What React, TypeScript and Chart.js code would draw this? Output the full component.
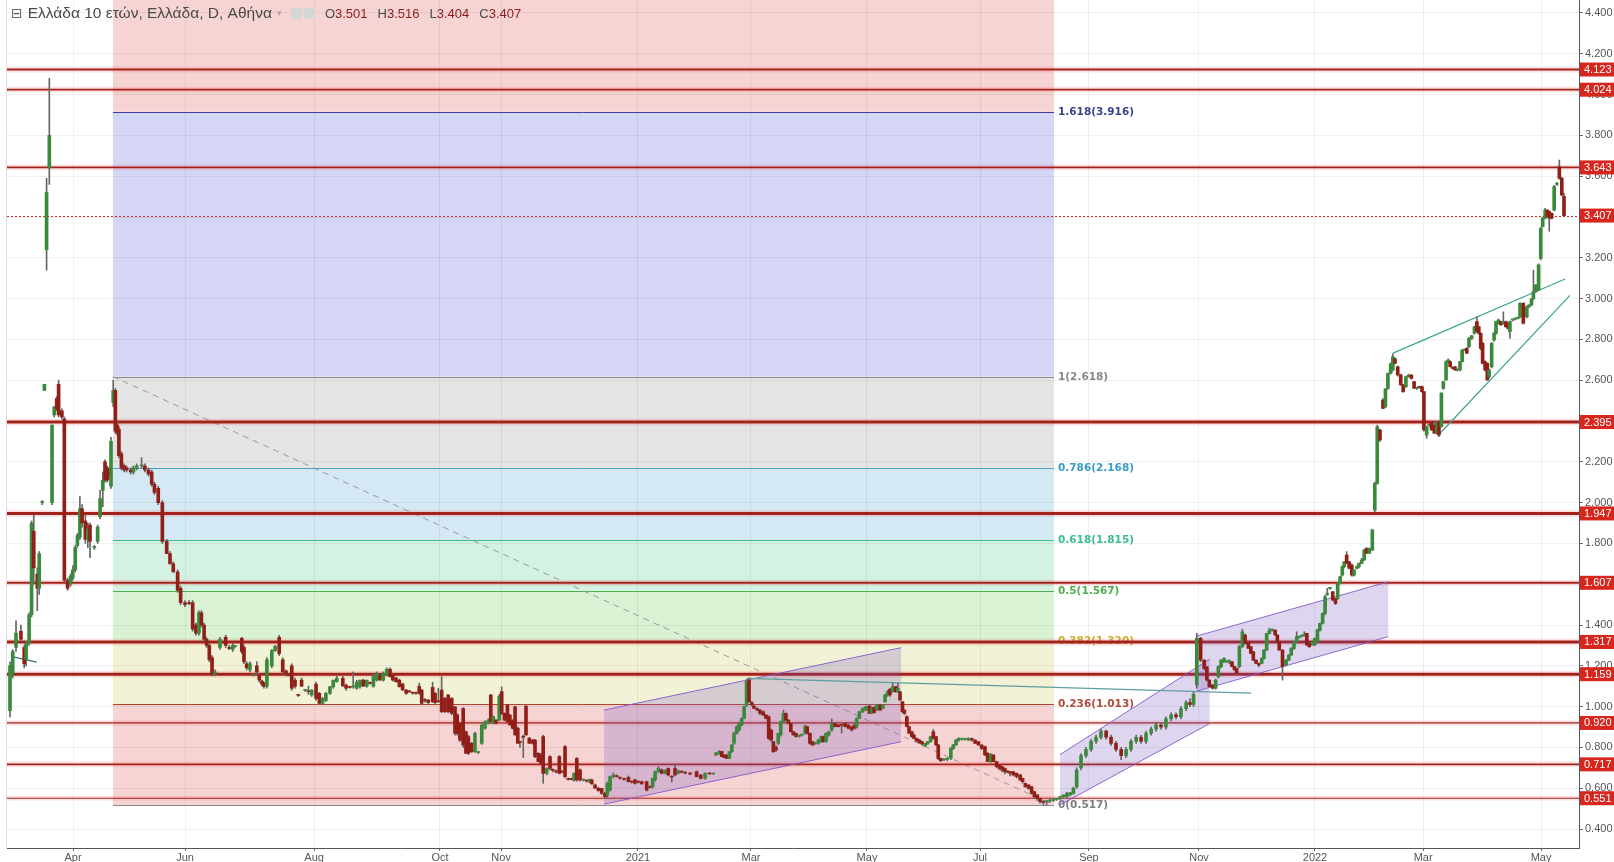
import React, { useEffect, useRef } from "react";
import { Chart, registerables } from "chart.js";
Chart.register(...registerables);

// ---- candle data: [tradingDayIndex, open, high, low, close] ----
const bars2020Spring = [
  [1.1,0.98,1.22,0.95,1.20],[2.1,1.16,1.28,1.14,1.27],[3.3,1.29,1.42,1.27,1.36],[5.1,1.37,1.40,1.32,1.33],
  [6.3,1.29,1.30,1.19,1.21],[7.0,1.23,1.32,1.20,1.31],[8.1,1.31,1.46,1.30,1.45],[9.0,1.45,1.91,1.44,1.90],
  [9.8,1.86,1.94,1.60,1.68],[11.1,1.65,1.68,1.47,1.58],[11.8,1.58,1.76,1.55,1.75],[12.9,2.00,2.01,1.99,2.005],
  [13.7,2.55,2.58,2.55,2.58],[14.5,3.24,3.59,3.14,3.52],[15.5,3.64,4.08,3.56,3.80],[16.5,2.00,2.38,1.99,2.38],
  [17.3,2.43,2.47,2.42,2.47],[18.2,2.51,2.52,2.45,2.46],[18.9,2.58,2.60,2.42,2.43],[20.1,2.45,2.46,2.41,2.42],
  [21.0,2.41,2.42,1.61,1.62],[22.2,1.62,1.63,1.57,1.58],[23.3,1.60,1.65,1.59,1.64],[24.1,1.63,1.69,1.62,1.67],
  [25.0,1.67,1.79,1.66,1.78],[25.8,1.79,1.85,1.78,1.84],[26.7,1.83,2.03,1.82,1.97],[27.5,1.97,1.99,1.88,1.90],
  [28.7,1.91,1.94,1.80,1.82],[29.6,1.82,1.90,1.78,1.87],[30.4,1.89,1.90,1.73,1.81],[32.0,1.78,1.79,1.77,1.785],
  [33.2,1.81,1.89,1.80,1.88],[34.1,1.93,2.06,1.92,2.02],[35.1,2.06,2.15,1.98,2.11],[35.9,2.20,2.21,2.10,2.11],
  [36.7,2.17,2.18,2.10,2.11],[37.4,2.16,2.17,2.12,2.13],[38.1,2.08,2.32,2.07,2.30],[38.9,2.49,2.60,2.47,2.55],
];
const bars2020Summer = [
  [39.7,2.55,2.56,2.34,2.35],[40.4,2.38,2.40,2.33,2.34],[41.0,2.36,2.37,2.22,2.23],[41.9,2.24,2.25,2.16,2.17],
  [42.9,2.18,2.19,2.15,2.16],[43.8,2.17,2.18,2.15,2.16],[45.3,2.16,2.17,2.14,2.15],[46.3,2.15,2.18,2.14,2.17],
  [47.5,2.17,2.19,2.16,2.18],[49.3,2.18,2.22,2.17,2.185],[50.5,2.18,2.19,2.15,2.16],[51.8,2.16,2.17,2.13,2.14],
  [53.0,2.15,2.16,2.08,2.09],[54.0,2.09,2.10,2.04,2.05],[55.4,2.07,2.08,1.99,2.00],[56.9,2.00,2.01,1.80,1.81],
  [58.5,1.81,1.82,1.75,1.75],[59.7,1.75,1.76,1.70,1.70],[60.9,1.70,1.71,1.66,1.66],[62.5,1.66,1.67,1.56,1.57],
  [63.6,1.58,1.59,1.50,1.51],[65.2,1.51,1.52,1.49,1.50],[66.7,1.51,1.52,1.50,1.505],[68.0,1.51,1.52,1.37,1.38],
  [69.2,1.40,1.41,1.35,1.36],[70.3,1.36,1.47,1.35,1.46],[71.2,1.46,1.47,1.39,1.40],[72.2,1.40,1.41,1.32,1.33],
  [73.1,1.33,1.34,1.29,1.30],[74.1,1.30,1.31,1.22,1.23],[75.1,1.24,1.25,1.15,1.16],[76.2,1.16,1.18,1.15,1.17],
  [78.0,1.29,1.34,1.28,1.33],[80.1,1.34,1.35,1.29,1.30],[81.4,1.29,1.30,1.28,1.285],[82.7,1.28,1.31,1.27,1.30],
  [83.5,1.295,1.30,1.29,1.30],[86.0,1.335,1.34,1.26,1.27],[86.8,1.29,1.30,1.21,1.22],[87.8,1.21,1.22,1.18,1.19],
  [89.0,1.18,1.22,1.17,1.21],[90.2,1.155,1.16,1.15,1.157],[91.5,1.20,1.22,1.16,1.17],[92.4,1.155,1.16,1.12,1.13],
  [93.4,1.125,1.13,1.10,1.11],[94.1,1.115,1.12,1.09,1.10],[95.2,1.10,1.24,1.09,1.23],[97.0,1.20,1.28,1.19,1.275],
  [98.2,1.275,1.30,1.27,1.295],[99.7,1.34,1.35,1.25,1.26],[101.0,1.23,1.24,1.16,1.17],[102.2,1.175,1.18,1.15,1.16],
  [103.0,1.155,1.16,1.15,1.152],[104.3,1.20,1.21,1.08,1.09],[105.5,1.13,1.14,1.09,1.10],[106.7,1.057,1.06,1.05,1.055],
  [107.9,1.13,1.14,1.10,1.10],[109.2,1.08,1.085,1.075,1.08],[110.4,1.075,1.10,1.06,1.073],[111.6,1.057,1.085,1.05,1.08],
  [113.2,1.11,1.12,1.03,1.04],[114.4,1.065,1.07,1.01,1.016],[115.6,1.016,1.045,1.01,1.04],[116.8,1.03,1.07,1.025,1.065],
  [118.3,1.065,1.10,1.06,1.098],[119.5,1.098,1.13,1.09,1.13],[120.8,1.122,1.15,1.12,1.139],
];
const bars2020Autumn = [
  [123.0,1.139,1.15,1.10,1.101],[124.2,1.105,1.11,1.08,1.09],[125.6,1.095,1.10,1.09,1.094],[126.8,1.097,1.17,1.09,1.10],
  [128.1,1.09,1.13,1.085,1.12],[129.3,1.098,1.13,1.09,1.13],[130.5,1.13,1.135,1.10,1.10],[131.8,1.10,1.13,1.095,1.13],
  [133.0,1.115,1.12,1.11,1.114],[134.2,1.10,1.16,1.095,1.147],[135.4,1.13,1.17,1.125,1.163],[136.6,1.155,1.16,1.13,1.13],
  [137.8,1.13,1.17,1.125,1.163],[139.1,1.155,1.19,1.15,1.183],[140.3,1.183,1.19,1.145,1.147],[141.3,1.155,1.16,1.125,1.13],
  [142.5,1.14,1.145,1.12,1.122],[143.7,1.13,1.135,1.095,1.098],[144.9,1.111,1.115,1.08,1.081],[146.2,1.081,1.085,1.06,1.065],
  [147.4,1.073,1.08,1.07,1.072],[148.6,1.068,1.07,1.06,1.066],[149.8,1.068,1.07,1.06,1.066],[151.0,1.10,1.115,1.06,1.065],
  [151.9,1.081,1.085,1.01,1.016],[153.1,1.032,1.04,1.02,1.03],[154.3,1.032,1.035,1.015,1.02],[155.9,1.094,1.12,1.02,1.024],
  [156.8,1.065,1.07,1.015,1.02],[158.0,1.025,1.09,1.02,1.024],[159.2,1.081,1.147,0.97,0.975],[160.4,1.04,1.045,0.97,0.975],
  [161.6,1.057,1.06,0.97,0.975],[162.9,1.04,1.045,0.96,0.967],[164.1,0.999,1.00,0.86,0.869],[164.9,0.96,0.965,0.86,0.869],
  [165.9,0.918,0.92,0.83,0.836],[167.1,0.991,0.995,0.80,0.812],[168.1,0.877,0.88,0.77,0.771],[169.0,0.853,0.86,0.765,0.771],
  [170.2,0.82,0.825,0.775,0.779],[171.4,0.779,0.875,0.775,0.869],[172.6,0.775,0.78,0.77,0.776],[173.9,0.82,0.915,0.815,0.91],
  [175.1,0.894,0.93,0.89,0.926],[176.3,0.918,0.94,0.915,0.934],[177.2,1.057,1.06,0.92,0.926],[178.1,0.918,0.955,0.915,0.951],
  [179.1,0.934,0.937,0.915,0.918],[180.3,0.934,1.06,0.93,1.049],[181.2,1.073,1.097,0.96,0.967],[182.2,0.967,0.97,0.93,0.934],
  [183.3,1.008,1.01,0.92,0.926],[184.2,0.959,0.962,0.91,0.91],[185.2,0.934,0.937,0.89,0.894],[186.1,0.999,1.003,0.86,0.861],
  [187.1,0.894,0.90,0.82,0.82],[187.9,0.828,0.83,0.80,0.825],[189.1,0.853,0.86,0.75,0.85],[190.1,1.003,1.005,0.86,0.861],
  [191.3,0.845,0.85,0.82,0.82],[192.6,0.836,0.84,0.815,0.82],[193.4,0.836,0.84,0.75,0.755],[194.6,0.771,0.775,0.73,0.73],
  [195.5,0.763,0.77,0.72,0.722],[196.4,0.853,0.86,0.624,0.673],[197.7,0.673,0.70,0.665,0.697],[198.9,0.755,0.76,0.69,0.697],
  [199.9,0.69,0.695,0.68,0.688],[201.1,0.682,0.69,0.675,0.68],[202.3,0.755,0.76,0.67,0.673],[203.2,0.682,0.685,0.675,0.68],
  [204.4,0.804,0.81,0.65,0.657],[205.6,0.645,0.65,0.64,0.643],[206.8,0.645,0.65,0.64,0.643],[207.7,0.64,0.675,0.635,0.673],
  [208.7,0.746,0.75,0.635,0.64],[209.9,0.69,0.695,0.635,0.64],[211.1,0.64,0.645,0.635,0.64],[212.3,0.637,0.64,0.63,0.635],
  [213.3,0.632,0.645,0.628,0.643],[214.2,0.64,0.645,0.62,0.621],[215.4,0.616,0.62,0.60,0.60],[216.6,0.60,0.605,0.585,0.588],
  [217.8,0.599,0.60,0.57,0.575],[219.0,0.575,0.58,0.55,0.558],[219.9,0.567,0.63,0.555,0.624],[220.9,0.591,0.66,0.585,0.657],
  [222.1,0.657,0.675,0.65,0.665],[223.3,0.66,0.665,0.655,0.657],[224.5,0.65,0.655,0.645,0.649],[226.0,0.647,0.65,0.64,0.643],
  [227.6,0.653,0.66,0.63,0.632],[228.8,0.632,0.635,0.625,0.63],
];
const bars2021H1 = [
  [230.0,0.641,0.645,0.62,0.624],[231.2,0.632,0.635,0.625,0.63],[232.5,0.632,0.635,0.62,0.621],[234.3,0.632,0.635,0.585,0.591],
  [235.5,0.607,0.61,0.60,0.605],[236.5,0.607,0.65,0.60,0.649],[237.4,0.641,0.685,0.635,0.681],[238.6,0.681,0.705,0.675,0.697],
  [239.8,0.69,0.695,0.67,0.673],[241.0,0.673,0.69,0.67,0.689],[242.2,0.697,0.70,0.66,0.665],[243.5,0.657,0.66,0.63,0.655],
  [244.7,0.697,0.72,0.66,0.665],[245.9,0.673,0.69,0.67,0.685],[247.1,0.681,0.685,0.675,0.679],[248.4,0.676,0.68,0.67,0.674],
  [250.2,0.673,0.675,0.665,0.67],[252.6,0.681,0.685,0.655,0.657],[254.1,0.664,0.668,0.645,0.648],[255.7,0.648,0.675,0.645,0.673],
  [257.3,0.672,0.675,0.668,0.670],[258.7,0.670,0.672,0.668,0.671],[259.7,0.763,0.775,0.76,0.774],[260.9,0.77,0.785,0.765,0.78],
  [261.8,0.78,0.782,0.755,0.755],[262.6,0.763,0.765,0.75,0.75],[263.6,0.763,0.765,0.745,0.746],[264.6,0.746,0.78,0.745,0.779],
  [265.5,0.779,0.815,0.775,0.812],[266.3,0.82,0.875,0.815,0.869],[267.3,0.869,0.905,0.865,0.902],[268.2,0.885,0.92,0.88,0.918],
  [269.1,0.91,0.945,0.905,0.942],[270.0,0.942,1.003,0.94,1.0],[270.9,1.008,1.134,1.0,1.122],[271.8,1.13,1.14,1.02,1.024],
  [272.8,1.02,1.025,1.005,1.008],[273.6,1.003,1.005,0.99,0.991],[274.8,0.99,0.995,0.98,0.983],[275.8,0.983,0.985,0.96,0.967],
  [277.0,0.975,0.98,0.955,0.959],[278.0,0.959,0.962,0.94,0.942],[279.0,0.951,0.955,0.84,0.844],[279.9,0.885,0.89,0.83,0.836],
  [280.7,0.828,0.83,0.775,0.779],[281.7,0.80,0.81,0.78,0.787],[282.5,0.82,0.87,0.815,0.869],[283.4,0.861,0.93,0.855,0.926],
  [284.4,0.926,0.983,0.92,0.967],[285.3,0.967,0.97,0.93,0.934],[286.2,0.934,0.937,0.915,0.918],[287.1,0.918,0.92,0.875,0.877],
  [288.0,0.877,0.88,0.86,0.861],[289.0,0.869,0.872,0.85,0.853],[290.1,0.855,0.86,0.85,0.855],[291.1,0.86,0.865,0.855,0.861],
  [292.3,0.869,0.91,0.865,0.902],[293.1,0.902,0.905,0.865,0.869],[294.1,0.869,0.872,0.815,0.82],[295.1,0.828,0.83,0.81,0.812],
  [296.1,0.82,0.825,0.815,0.82],[297.2,0.82,0.84,0.815,0.836],[298.2,0.828,0.855,0.825,0.853],[299.0,0.853,0.856,0.825,0.828],
  [300.0,0.828,0.872,0.825,0.869],[301.0,0.861,0.88,0.855,0.877],[302.1,0.885,0.94,0.88,0.918],[303.3,0.918,0.92,0.90,0.902],
  [304.5,0.91,0.912,0.90,0.902],[305.7,0.91,0.912,0.87,0.908],[307.0,0.918,0.92,0.90,0.902],[308.2,0.91,0.912,0.89,0.894],
  [309.4,0.90,0.905,0.88,0.885],[310.4,0.91,0.912,0.89,0.894],[311.2,0.90,0.945,0.895,0.942],[312.2,0.942,0.978,0.94,0.975],
  [313.4,0.975,0.995,0.97,0.991],[314.6,0.983,1.003,0.98,1.0],[315.9,1.003,1.006,0.965,0.967],[316.7,0.967,0.995,0.965,0.991],
  [317.6,0.996,1.0,0.97,0.97],[318.6,0.983,1.01,0.98,1.008],[319.8,1.008,1.01,0.98,0.983],[320.8,0.991,1.01,0.99,1.008],
  [321.6,1.024,1.06,1.02,1.057],[322.5,1.057,1.08,1.05,1.073],[323.4,1.085,1.09,1.05,1.057],[324.4,1.073,1.117,1.07,1.098],
  [325.5,1.098,1.10,1.07,1.073],[326.3,1.073,1.114,1.07,1.089],[327.1,1.073,1.075,1.03,1.032],[328.0,1.024,1.026,0.97,0.975],
  [328.7,0.983,0.985,0.96,0.967],[329.6,0.951,0.955,0.90,0.902],[330.4,0.902,0.905,0.87,0.869],[331.4,0.877,0.88,0.85,0.853],
  [332.2,0.861,0.865,0.84,0.844],[333.2,0.844,0.846,0.83,0.831],[334.2,0.836,0.84,0.82,0.823],[335.2,0.828,0.83,0.81,0.817],
  [336.3,0.807,0.82,0.805,0.82],[337.2,0.817,0.83,0.815,0.828],[338.3,0.828,0.855,0.825,0.853],[339.3,0.877,0.888,0.84,0.844],
  [340.3,0.853,0.855,0.81,0.812],[341.1,0.812,0.815,0.74,0.746],[342.0,0.746,0.748,0.73,0.735],[343.2,0.74,0.745,0.735,0.741],
  [344.4,0.741,0.75,0.735,0.746],[345.7,0.746,0.80,0.74,0.795],[346.6,0.795,0.815,0.79,0.812],[347.6,0.812,0.84,0.81,0.836],
  [348.6,0.836,0.848,0.83,0.844],[349.8,0.84,0.845,0.835,0.842],[350.9,0.84,0.845,0.835,0.84],[352.1,0.836,0.848,0.833,0.844],
  [353.4,0.844,0.846,0.83,0.836],[354.6,0.836,0.838,0.82,0.82],[355.8,0.828,0.83,0.81,0.812],[357.0,0.812,0.814,0.79,0.795],
  [358.2,0.804,0.806,0.76,0.763],[359.2,0.771,0.775,0.73,0.73],[360.3,0.73,0.77,0.725,0.767],[361.3,0.763,0.765,0.73,0.73],
  [362.5,0.73,0.733,0.70,0.706],[363.5,0.714,0.716,0.69,0.697],[364.5,0.706,0.708,0.68,0.689],[365.5,0.697,0.70,0.67,0.681],
  [366.4,0.681,0.685,0.675,0.68],[367.4,0.681,0.683,0.66,0.673],[368.6,0.681,0.683,0.66,0.665],[369.8,0.673,0.675,0.65,0.657],
  [371.1,0.665,0.668,0.64,0.64],[372.0,0.648,0.65,0.625,0.632],[373.0,0.624,0.626,0.605,0.607],[374.2,0.616,0.618,0.595,0.599],
  [375.3,0.607,0.61,0.57,0.575],[376.3,0.583,0.585,0.55,0.558],[377.4,0.567,0.57,0.54,0.55],[378.4,0.55,0.552,0.525,0.534],
  [379.6,0.534,0.54,0.518,0.53],[380.8,0.534,0.54,0.517,0.535],[382.0,0.537,0.545,0.53,0.54],[383.3,0.54,0.55,0.535,0.548],
  [384.5,0.545,0.55,0.54,0.545],
];
const bars2021H2 = [
  [385.7,0.548,0.56,0.545,0.558],[386.9,0.558,0.567,0.555,0.567],[388.2,0.558,0.58,0.555,0.575],[389.4,0.567,0.58,0.565,0.578],
  [390.6,0.575,0.605,0.57,0.60],[391.8,0.607,0.70,0.60,0.689],[393.4,0.70,0.77,0.69,0.76],[395.2,0.76,0.80,0.75,0.79],
  [397.1,0.79,0.84,0.78,0.83],[398.9,0.83,0.86,0.82,0.85],[400.7,0.85,0.89,0.84,0.88],[402.6,0.88,0.885,0.84,0.85],
  [404.4,0.85,0.86,0.81,0.82],[406.2,0.82,0.83,0.78,0.79],[408.1,0.79,0.80,0.74,0.76],[409.9,0.76,0.80,0.75,0.79],
  [411.7,0.79,0.84,0.78,0.83],[413.6,0.83,0.86,0.82,0.85],[415.4,0.85,0.86,0.82,0.83],[417.2,0.83,0.88,0.82,0.87],
  [419.1,0.87,0.90,0.86,0.89],[420.9,0.89,0.92,0.88,0.91],[422.7,0.91,0.92,0.89,0.90],[424.5,0.90,0.95,0.89,0.94],
  [426.4,0.94,0.97,0.93,0.96],[428.2,0.96,0.97,0.94,0.95],[430.0,0.95,1.00,0.94,0.99],[431.9,0.99,1.03,0.98,1.02],
  [433.3,1.02,1.04,1.00,1.01],[434.6,1.01,1.07,1.00,1.06],[435.8,1.106,1.36,1.09,1.335],[437.2,1.335,1.34,1.22,1.228],
  [438.5,1.228,1.23,1.18,1.187],[439.5,1.195,1.198,1.125,1.13],[440.4,1.13,1.132,1.095,1.098],[441.6,1.106,1.108,1.085,1.09],
  [442.7,1.09,1.135,1.085,1.13],[443.7,1.147,1.20,1.14,1.196],[444.7,1.196,1.23,1.19,1.228],[445.8,1.22,1.24,1.215,1.236],
  [446.8,1.22,1.225,1.215,1.22],[447.7,1.22,1.23,1.21,1.22],[448.7,1.22,1.222,1.195,1.196],[449.6,1.196,1.198,1.178,1.18],
  [450.4,1.187,1.19,1.16,1.163],[451.4,1.196,1.30,1.19,1.294],[452.5,1.294,1.38,1.29,1.367],[453.5,1.351,1.355,1.305,1.31],
  [454.7,1.318,1.32,1.285,1.286],[455.6,1.294,1.296,1.26,1.261],[456.5,1.269,1.271,1.225,1.228],[457.5,1.228,1.23,1.21,1.212],
  [458.5,1.212,1.214,1.195,1.204],[459.6,1.212,1.24,1.21,1.236],[460.4,1.236,1.28,1.233,1.277],[461.4,1.277,1.36,1.275,1.359],
  [462.4,1.359,1.385,1.355,1.375],[463.4,1.375,1.38,1.37,1.376],[464.5,1.375,1.377,1.35,1.351],[465.3,1.351,1.353,1.318,1.318],
  [466.0,1.318,1.32,1.277,1.277],[467.2,1.277,1.28,1.13,1.196],[468.5,1.204,1.23,1.20,1.228],[469.5,1.228,1.255,1.225,1.253],
  [470.4,1.253,1.29,1.25,1.285],[471.4,1.285,1.32,1.28,1.318],[472.4,1.318,1.367,1.315,1.343],[473.3,1.34,1.345,1.335,1.346],
  [474.3,1.346,1.35,1.34,1.35],[475.2,1.35,1.367,1.345,1.355],[476.1,1.359,1.36,1.30,1.302],[477.0,1.318,1.32,1.29,1.294],
  [478.0,1.31,1.315,1.30,1.31],
];
const bars2022 = [
  [479.0,1.302,1.336,1.30,1.335],[480.0,1.318,1.38,1.315,1.375],[480.9,1.375,1.41,1.37,1.408],[481.9,1.408,1.46,1.405,1.457],
  [482.8,1.457,1.545,1.45,1.539],[483.6,1.55,1.58,1.545,1.555],[484.6,1.58,1.585,1.575,1.58],[485.6,1.563,1.565,1.52,1.522],
  [486.6,1.53,1.532,1.50,1.506],[487.4,1.53,1.61,1.525,1.604],[488.3,1.604,1.64,1.60,1.637],[489.1,1.645,1.69,1.64,1.686],
  [489.8,1.686,1.712,1.68,1.71],[490.7,1.743,1.76,1.70,1.702],[491.6,1.71,1.712,1.675,1.678],[492.6,1.694,1.70,1.64,1.645],
  [493.4,1.645,1.67,1.64,1.67],[494.4,1.678,1.69,1.675,1.686],[495.2,1.686,1.705,1.68,1.702],[496.2,1.702,1.727,1.70,1.719],
  [497.1,1.719,1.77,1.715,1.768],[498.0,1.776,1.78,1.75,1.752],[499.0,1.752,1.778,1.75,1.776],[500.1,1.768,1.87,1.765,1.866],
  [501.0,1.964,2.10,1.955,2.094],[501.9,2.094,2.38,2.09,2.372],[502.9,2.356,2.36,2.30,2.307],[504.0,2.503,2.51,2.46,2.462],
  [504.9,2.47,2.56,2.465,2.557],[505.8,2.56,2.635,2.555,2.634],[506.8,2.634,2.685,2.63,2.68],[507.6,2.65,2.73,2.645,2.715],
  [508.4,2.705,2.71,2.68,2.683],[509.4,2.666,2.67,2.62,2.626],[510.5,2.626,2.63,2.575,2.577],[511.4,2.577,2.58,2.54,2.544],
  [512.4,2.568,2.62,2.565,2.617],[513.4,2.617,2.63,2.615,2.625],[514.4,2.625,2.628,2.605,2.609],[515.4,2.593,2.595,2.56,2.56],
  [516.4,2.56,2.565,2.555,2.56],[517.3,2.568,2.57,2.56,2.565],[518.3,2.568,2.572,2.54,2.544],[519.0,2.544,2.546,2.35,2.356],
  [520.0,2.331,2.375,2.315,2.372],[520.9,2.38,2.385,2.375,2.38],[521.8,2.389,2.39,2.355,2.356],[522.8,2.38,2.385,2.34,2.34],
  [523.7,2.34,2.398,2.335,2.397],[524.5,2.397,2.40,2.323,2.331],[525.4,2.372,2.54,2.37,2.536],[526.1,2.56,2.595,2.555,2.593],
  [527.1,2.601,2.695,2.60,2.691],[527.9,2.691,2.705,2.685,2.699],[528.6,2.691,2.695,2.665,2.666],[529.5,2.66,2.665,2.655,2.658],
  [530.4,2.666,2.668,2.648,2.65],[531.2,2.65,2.655,2.645,2.65],[532.2,2.65,2.693,2.645,2.691],[533.0,2.691,2.75,2.69,2.748],
  [533.9,2.748,2.752,2.745,2.75],[534.7,2.756,2.76,2.73,2.732],[535.5,2.764,2.81,2.76,2.805],[536.5,2.805,2.82,2.80,2.818],
  [537.5,2.83,2.865,2.825,2.862],[538.4,2.887,2.911,2.835,2.838],[539.1,2.862,2.865,2.825,2.83],[539.8,2.83,2.832,2.75,2.756],
  [540.5,2.781,2.785,2.68,2.683],[541.4,2.691,2.695,2.645,2.65],[542.2,2.683,2.685,2.60,2.601],[542.9,2.617,2.655,2.61,2.65],
  [543.8,2.666,2.785,2.66,2.781],[544.7,2.797,2.835,2.79,2.83],[545.4,2.83,2.89,2.825,2.887],[546.3,2.879,2.90,2.875,2.895],
  [547.2,2.887,2.89,2.87,2.871],[548.1,2.879,2.935,2.875,2.88],[549.0,2.887,2.89,2.86,2.862],[549.8,2.879,2.882,2.85,2.854],
  [550.5,2.838,2.89,2.805,2.887],[551.5,2.895,2.90,2.89,2.898],[552.5,2.90,2.905,2.895,2.903],[553.4,2.903,2.91,2.90,2.903],
  [554.2,2.911,2.98,2.905,2.977],[555.4,2.977,2.98,2.875,2.879],[556.7,2.911,2.965,2.905,2.96],[557.5,2.96,2.97,2.955,2.969],
  [558.4,2.969,3.0,2.965,2.999],[559.1,3.0,3.14,2.995,3.034],[560.0,3.034,3.07,3.03,3.066],[561.0,3.042,3.17,3.04,3.165],
  [561.8,3.197,3.35,3.19,3.344],[562.5,3.353,3.40,3.35,3.394],[563.4,3.394,3.443,3.39,3.434],[564.2,3.434,3.436,3.40,3.402],
  [564.9,3.426,3.43,3.33,3.394],[565.8,3.418,3.42,3.39,3.394],[566.7,3.434,3.555,3.43,3.549],[567.7,3.56,3.57,3.555,3.565],
  [568.6,3.647,3.679,3.585,3.59],[569.5,3.59,3.595,3.505,3.508],[570.3,3.501,3.516,3.404,3.407],
];

// ---- axes ----
const yTickValues = [0.4,0.6,0.8,1.0,1.2,1.4,1.6,1.8,2.0,2.2,2.4,2.6,2.8,3.0,3.2,3.4,3.6,3.8,4.0,4.2,4.4];
const monthTickDays = [24.2,65.2,112.5,158.6,181.0,231.1,272.5,315.0,356.4,396.3,436.6,479.1,518.7,561.9];
const monthTickLabels = ["Apr","Jun","Aug","Oct","Nov","2021","Mar","May","Jul","Sep","Nov","2022","Mar","May"];

// ---- Fibonacci retracement ----
const fibLevels = [0, 0.236, 0.382, 0.5, 0.618, 0.786, 1, 1.618, 2.618];
const fibPrices = [0.517, 1.013, 1.320, 1.567, 1.815, 2.168, 2.618, 3.916, 6.018];
const fibDays = [38.8, 383.5];
const fibZoneColors = ["#f7d4d4","#f2f2d6","#d9f2d4","#d4f2e2","#d5e9f4","#e4e4e4","#d5d5f5","#f7d4d4"];
const fibLineColors = ["#8a8a8a","#b5442f","#c9a825","#4caf50","#3fb98f","#4a9fd0","#8a8a8a","#3b3fa0","#c03030"];
const fibLabelColors = ["#7d7d7d","#b04a3a","#c9b030","#4cae4c","#3dbb92","#3b9bc8","#888888","#3d4290","#c03030"];

// ---- horizontal support / resistance ----
const srLevels = [4.123, 4.024, 3.643, 2.395, 1.947, 1.607, 1.317, 1.159, 0.920, 0.717, 0.551];
const srWidths = [1.8, 1.8, 1.8, 3, 3, 2, 3, 3, 1.3, 1.8, 1.1];
const lastPrice = 3.407;

// ---- parallel channels ----
const channelDays = [[218.7, 327.5], [385.7, 440.5], [435.8, 505.9]];
const channelUpper = [[0.983, 1.289], [0.765, 1.233], [1.346, 1.612]];
const channelLower = [[0.522, 0.828], [0.518, 0.917], [1.076, 1.343]];

// ---- trend lines ----
const trendDays = [[271.0, 455.7], [507.7, 570.7], [524.5, 572.5], [2.3, 10.9]];
const trendValues = [[1.138, 1.066], [2.733, 3.096], [2.334, 3.016], [1.244, 1.218]];
const trendColors = ["#5f9ea0", "#3aa58f", "#3aa58f", "#3d6f73"];

const AXIS_FONT = '"Liberation Sans", Arial, sans-serif';

const overlayPlugin = {
  id: "overlay",
  beforeDraw(chart: any) {
    const { ctx, chartArea: a, scales } = chart;
    const x = scales.x, y = scales.y;
    ctx.save();
    ctx.beginPath();
    ctx.rect(a.left, a.top, a.right - a.left, a.bottom - a.top);
    ctx.clip();
    const x0 = x.getPixelForValue(fibDays[0]);
    const x1 = x.getPixelForValue(fibDays[1]);
    for (let i = 0; i < fibPrices.length - 1; i++) {
      const ya = y.getPixelForValue(fibPrices[i]);
      const yb = y.getPixelForValue(fibPrices[i + 1]);
      ctx.fillStyle = fibZoneColors[i];
      ctx.fillRect(x0, yb, x1 - x0, ya - yb);
    }
    ctx.restore();
  },
  beforeDatasetsDraw(chart: any) {
    const { ctx, chartArea: a, scales } = chart;
    const x = scales.x, y = scales.y;
    ctx.save();
    ctx.beginPath();
    ctx.rect(a.left, a.top, a.right - a.left, a.bottom - a.top);
    ctx.clip();
    const x0 = x.getPixelForValue(fibDays[0]);
    const x1 = x.getPixelForValue(fibDays[1]);
    // fib level lines + labels
    for (let i = 0; i < fibPrices.length; i++) {
      const yy = Math.round(y.getPixelForValue(fibPrices[i])) + 0.5;
      ctx.strokeStyle = fibLineColors[i];
      ctx.lineWidth = 1;
      ctx.beginPath();
      ctx.moveTo(x0, yy);
      ctx.lineTo(x1, yy);
      ctx.stroke();
      if (yy > a.top && yy < a.bottom) {
        ctx.fillStyle = fibLabelColors[i];
        ctx.font = 'bold 10.5px "DejaVu Sans", Verdana, sans-serif';
        ctx.textAlign = "left";
        ctx.textBaseline = "middle";
        ctx.fillText(`${fibLevels[i]}(${fibPrices[i].toFixed(3)})`, x1 + 4, yy);
      }
    }
    // fib diagonal
    ctx.strokeStyle = "#9a9a9a";
    ctx.setLineDash([6, 5]);
    ctx.lineWidth = 1;
    ctx.beginPath();
    ctx.moveTo(x0, y.getPixelForValue(fibPrices[6]));
    ctx.lineTo(x1, y.getPixelForValue(fibPrices[0]));
    ctx.stroke();
    ctx.setLineDash([]);

    // support/resistance lines
    srLevels.forEach((v, i) => {
      const yy = y.getPixelForValue(v);
      ctx.strokeStyle = "rgba(235, 80, 80, 0.16)";
      ctx.lineWidth = srWidths[i] + 4;
      ctx.beginPath();
      ctx.moveTo(a.left, yy);
      ctx.lineTo(a.right, yy);
      ctx.stroke();
      ctx.strokeStyle = "#a5221c";
      ctx.lineWidth = srWidths[i];
      ctx.beginPath();
      ctx.moveTo(a.left, yy);
      ctx.lineTo(a.right, yy);
      ctx.stroke();
    });
    // last price dotted line
    {
      const yy = Math.round(y.getPixelForValue(lastPrice)) + 0.5;
      ctx.strokeStyle = "#d32f2f";
      ctx.lineWidth = 1;
      ctx.setLineDash([2, 2]);
      ctx.beginPath();
      ctx.moveTo(a.left, yy);
      ctx.lineTo(a.right, yy);
      ctx.stroke();
      ctx.setLineDash([]);
    }

    // channels
    for (let i = 0; i < channelDays.length; i++) {
      const cx0 = x.getPixelForValue(channelDays[i][0]);
      const cx1 = x.getPixelForValue(channelDays[i][1]);
      const u0 = y.getPixelForValue(channelUpper[i][0]);
      const u1 = y.getPixelForValue(channelUpper[i][1]);
      const l0 = y.getPixelForValue(channelLower[i][0]);
      const l1 = y.getPixelForValue(channelLower[i][1]);
      ctx.fillStyle = "rgba(115, 85, 190, 0.24)";
      ctx.beginPath();
      ctx.moveTo(cx0, u0);
      ctx.lineTo(cx1, u1);
      ctx.lineTo(cx1, l1);
      ctx.lineTo(cx0, l0);
      ctx.closePath();
      ctx.fill();
      ctx.strokeStyle = "rgba(130, 90, 205, 0.9)";
      ctx.lineWidth = 1;
      ctx.beginPath();
      ctx.moveTo(cx0, u0);
      ctx.lineTo(cx1, u1);
      ctx.moveTo(cx0, l0);
      ctx.lineTo(cx1, l1);
      ctx.stroke();
    }

    // trend lines
    for (let i = 0; i < trendDays.length; i++) {
      ctx.strokeStyle = trendColors[i];
      ctx.lineWidth = 1.2;
      ctx.beginPath();
      ctx.moveTo(x.getPixelForValue(trendDays[i][0]), y.getPixelForValue(trendValues[i][0]));
      ctx.lineTo(x.getPixelForValue(trendDays[i][1]), y.getPixelForValue(trendValues[i][1]));
      ctx.stroke();
    }
    ctx.restore();
  },
  afterDraw(chart: any) {
    const { ctx, chartArea: a, scales } = chart;
    const y = scales.y;
    ctx.save();
    const tags = [...srLevels, lastPrice];
    tags.forEach((v) => {
      const yy = y.getPixelForValue(v);
      ctx.fillStyle = "#d7261e";
      ctx.fillRect(a.right + 1, yy - 7, 34, 14);
      ctx.fillStyle = "#ffffff";
      ctx.font = `11px ${AXIS_FONT}`;
      ctx.textAlign = "left";
      ctx.textBaseline = "middle";
      ctx.fillText(v.toFixed(3), a.right + 5, yy + 0.5);
    });
    ctx.restore();
  },
};

export default function App() {
  const canvasRef = useRef<HTMLCanvasElement | null>(null);

  useEffect(() => {
    const canvas = canvasRef.current;
    if (!canvas) return;
    const allBars = [...bars2020Spring, ...bars2020Summer, ...bars2020Autumn, ...bars2021H1, ...bars2021H2, ...bars2022];
    const isUp = allBars.map((b) => b[4] >= b[1]);

    const chart = new Chart(canvas, {
      type: "bar",
      data: {
        datasets: [
          {
            label: "body",
            data: allBars.map((b) => ({ x: b[0], y: [b[1], b[4]] })),
            backgroundColor: isUp.map((u) => (u ? "#3a8a3c" : "#921f17")),
            borderWidth: 0,
            barThickness: 3,
            grouped: false,
            minBarLength: 1,
            order: 0,
          } as any,
          {
            label: "wick",
            data: allBars.map((b) => ({ x: b[0], y: [b[3], b[2]] })),
            backgroundColor: "#666666",
            borderWidth: 0,
            barThickness: 1,
            grouped: false,
            minBarLength: 1,
            order: 1,
          } as any,
        ],
      },
      options: {
        animation: false,
        responsive: false,
        devicePixelRatio: 1,
        events: [],
        layout: { padding: { left: 7, right: 0, top: 0, bottom: 0 } },
        plugins: {
          legend: { display: false },
          tooltip: { enabled: false },
          title: { display: false },
        },
        scales: {
          x: {
            type: "linear",
            position: "bottom",
            min: 0,
            max: 575.8,
            offset: false,
            grid: { offset: false, color: "rgba(0,0,0,0.06)", tickLength: 3, tickColor: "#666", drawTicks: true },
            border: { color: "#555", width: 1 },
            ticks: {
              autoSkip: false,
              maxRotation: 0,
              padding: 0,
              color: "#555",
              font: { size: 11, family: AXIS_FONT },
              callback: (_v: any, i: number) => monthTickLabels[i] ?? "",
            },
            afterBuildTicks: (s: any) => {
              s.ticks = monthTickDays.map((v) => ({ value: v }));
            },
            afterFit: (s: any) => {
              s.height = 14;
              s.paddingLeft = 0;
              s.paddingRight = 0;
            },
          } as any,
          y: {
            type: "linear",
            position: "right",
            min: 0.307,
            max: 4.4637,
            grid: { color: "rgba(0,0,0,0.06)", tickLength: 4, tickColor: "#666", drawTicks: true },
            border: { color: "#555", width: 1 },
            ticks: {
              padding: 2,
              color: "#555",
              font: { size: 11, family: AXIS_FONT },
              callback: (v: any) => Number(v).toFixed(3),
            },
            afterBuildTicks: (s: any) => {
              s.ticks = yTickValues.map((v) => ({ value: v }));
            },
            afterFit: (s: any) => {
              s.width = 35;
              s.paddingTop = 0;
              s.paddingBottom = 0;
            },
          } as any,
        },
      },
      plugins: [overlayPlugin],
    });
    return () => chart.destroy();
  }, []);

  const valStyle: React.CSSProperties = { color: "#8b1c1c" };
  return (
    <div
      style={{
        position: "fixed",
        left: 0,
        top: 0,
        width: 1614,
        height: 862,
        background: "#ffffff",
        overflow: "hidden",
      }}
    >
      <canvas ref={canvasRef} width={1614} height={862} style={{ display: "block" }} />
      <div style={{ position: "absolute", left: 6, top: 0, width: 1, height: 848, background: "#dcdcdc" }} />
      <div
        style={{
          position: "absolute",
          left: 11,
          top: 3,
          height: 20,
          display: "flex",
          alignItems: "center",
          whiteSpace: "nowrap",
          fontFamily: AXIS_FONT,
          color: "#4a4a4a",
        }}
      >
        <span style={{ fontFamily: '"DejaVu Sans", sans-serif', fontSize: 14, color: "#666", marginRight: 5 }}>⊟</span>
        <span style={{ fontSize: 15.5 }}>Ελλάδα 10 ετών, Ελλάδα, D, Αθήνα</span>
        <span style={{ fontSize: 9, color: "#aaa", marginLeft: 5 }}>▾</span>
        <span style={{ display: "inline-block", width: 11, height: 11, background: "#d6d6d6", marginLeft: 9 }} />
        <span style={{ display: "inline-block", width: 11, height: 11, background: "#d6d6d6", marginLeft: 2 }} />
        <span style={{ fontSize: 13, marginLeft: 10 }}>
          O<span style={valStyle}>3.501</span>
        </span>
        <span style={{ fontSize: 13, marginLeft: 10 }}>
          H<span style={valStyle}>3.516</span>
        </span>
        <span style={{ fontSize: 13, marginLeft: 10 }}>
          L<span style={valStyle}>3.404</span>
        </span>
        <span style={{ fontSize: 13, marginLeft: 10 }}>
          C<span style={valStyle}>3.407</span>
        </span>
      </div>
    </div>
  );
}
